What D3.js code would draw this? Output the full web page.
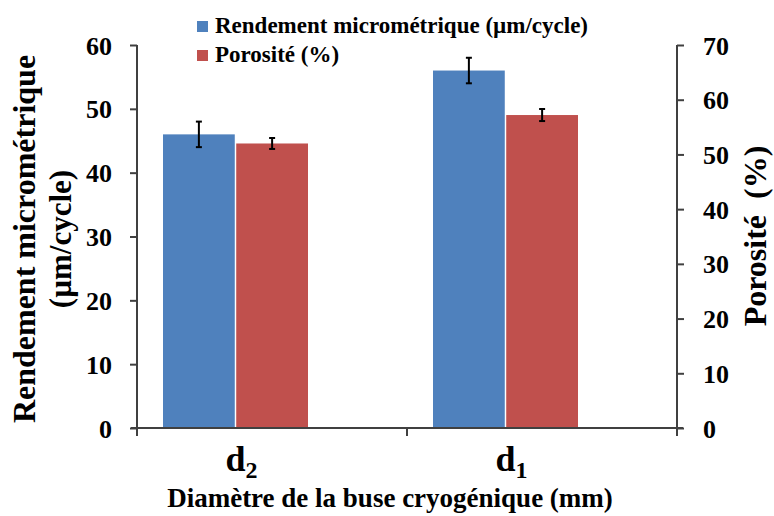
<!DOCTYPE html>
<html><head><meta charset="utf-8">
<script src="https://cdn.jsdelivr.net/npm/d3@7"></script>
</head><body style="margin:0">
<script>
const categories = ["d2", "d1"];
const subscripts = ["2", "1"];
const seriesNames = ["Rendement micrométrique (µm/cycle)", "Porosité (%)"];
const rendement = [46, 56];
const rendementErr = [2, 2];
const porosite = [52, 57.2];
const porositeErr = [1, 1.1];
const leftTicks = [0, 10, 20, 30, 40, 50, 60];
const rightTicks = [0, 10, 20, 30, 40, 50, 60, 70];
const colors = ["#4F81BD", "#C0504D"];

const W = 774, H = 516;
const L = 137, R = 677, T = 45, B = 428;
const svg = d3.select("body").append("svg").attr("width", W).attr("height", H)
  .attr("font-family", "Liberation Serif").attr("font-weight", "bold");

const x0 = d3.scaleBand().domain(categories).range([L, R]).paddingInner(0).paddingOuter(0);
// bars sit in the left part of each category band
const x1 = d3.scaleBand().domain([0, 1]).range([26, 171]).paddingInner(0.02);
const yL = d3.scaleLinear().domain([0, 60]).range([B, T]);
const yR = d3.scaleLinear().domain([0, 70]).range([B, T]);

const data = [];
categories.forEach((c, i) => {
  data.push({c, s: 0, v: rendement[i], e: rendementErr[i], y: yL});
  data.push({c, s: 1, v: porosite[i], e: porositeErr[i], y: yR});
});

svg.selectAll("rect.bar").data(data).enter().append("rect")
  .attr("class", "bar")
  .attr("x", d => x0(d.c) + x1(d.s))
  .attr("width", x1.bandwidth())
  .attr("y", d => d.y(d.v))
  .attr("height", d => B - d.y(d.v))
  .attr("fill", d => colors[d.s]);

const cxOf = d => x0(d.c) + x1(d.s) + x1.bandwidth() / 2;
const eb = svg.selectAll("g.err").data(data).enter().append("g").attr("stroke", "#000").attr("stroke-width", 2);
eb.append("line").attr("x1", cxOf).attr("x2", cxOf)
  .attr("y1", d => d.y(d.v + d.e)).attr("y2", d => d.y(d.v - d.e));
[1, -1].forEach(sg => {
  eb.append("line").attr("x1", d => cxOf(d) - 3).attr("x2", d => cxOf(d) + 3)
    .attr("y1", d => d.y(d.v + sg * d.e)).attr("y2", d => d.y(d.v + sg * d.e));
});

const axisColor = "#404040";
const gL = svg.append("g").attr("transform", `translate(${L},0)`)
  .call(d3.axisLeft(yL).tickValues(leftTicks).tickSize(7).tickPadding(18));
const gR = svg.append("g").attr("transform", `translate(${R},0)`)
  .call(d3.axisRight(yR).tickValues(rightTicks).tickSize(7));
[gL, gR].forEach(g => {
  g.attr("font-family", "Liberation Serif").attr("font-size", 26);
  g.select(".domain").attr("stroke", axisColor).attr("stroke-width", 2).attr("d", `M0,${T}V${B}`);
  g.selectAll(".tick line").attr("stroke", axisColor).attr("stroke-width", 2);
  g.selectAll(".tick text").attr("dy", "0.35em").attr("fill", "#000");
});
gR.selectAll(".tick text").attr("text-anchor", "start").attr("x", 26);

svg.append("line").attr("x1", L - 6).attr("x2", R + 6).attr("y1", B).attr("y2", B).attr("stroke", axisColor).attr("stroke-width", 2);
svg.selectAll("line.xt").data(categories.concat(["end"])).enter().append("line")
  .attr("x1", (d, i) => i < categories.length ? x0(d) : R).attr("x2", (d, i) => i < categories.length ? x0(d) : R)
  .attr("y1", B).attr("y2", B + 8).attr("stroke", axisColor).attr("stroke-width", 2);

function txt(sel) { return sel.attr("font-family", "Liberation Serif").attr("font-weight", "bold").attr("fill", "#000"); }

categories.forEach((c, i) => {
  const cx = x0(c) + (x1(0) + x1(1) + x1.bandwidth()) / 2 + 6;
  const t = txt(svg.append("text")).attr("x", cx).attr("y", 471).attr("text-anchor", "middle").attr("font-size", 36);
  t.append("tspan").text(c.charAt(0));
  t.append("tspan").text(subscripts[i]).attr("dy", 7).attr("font-size", 24);
});

txt(svg.append("text")).attr("x", 390).attr("y", 507).attr("text-anchor", "middle").attr("font-size", 27)
  .text("Diamètre de la buse cryogénique (mm)");

const lt = txt(svg.append("text")).attr("transform", `translate(35,239) rotate(-90)`).attr("text-anchor", "middle").attr("font-size", 32);
lt.append("tspan").attr("x", 0).attr("dy", 0).text("Rendement micrométrique");
lt.append("tspan").attr("x", 0).attr("dy", 36).attr("font-size", 31).text("(µm/cycle)");

txt(svg.append("text")).attr("transform", `translate(766,236) rotate(-90)`).attr("text-anchor", "middle").attr("font-size", 32)
  .attr("xml:space", "preserve").text("Porosité  (%)");

seriesNames.forEach((n, i) => {
  svg.append("rect").attr("x", 197).attr("y", 21 + i * 29).attr("width", 11).attr("height", 11).attr("fill", colors[i]);
  txt(svg.append("text")).attr("x", 215).attr("y", 33 + i * 29).attr("font-size", 23).text(n);
});
</script>
</body></html>
